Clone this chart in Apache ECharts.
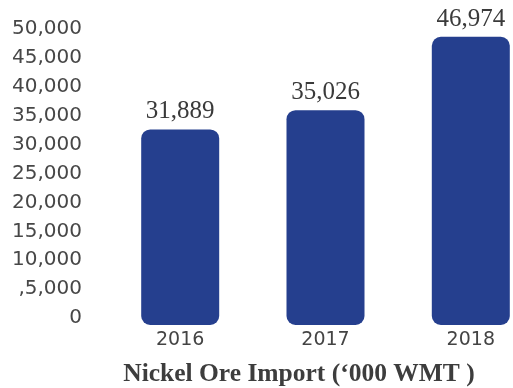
<!DOCTYPE html>
<html>
<head>
<meta charset="utf-8">
<script src="https://cdn.jsdelivr.net/npm/echarts@6/dist/echarts.min.js"></script>
<style>
  html, body { margin: 0; padding: 0; background: #ffffff; }
  #chart { width: 513px; height: 388px; }
</style>
</head>
<body>
<div id="chart"></div>
<script>
// Nickel ore imports by year, thousand wet metric tonnes
const years = ['2016', '2017', '2018'];
const importVolumes = [31889, 35026, 46974];
const yTickValues = [0, 5000, 10000, 15000, 20000, 25000, 30000, 35000, 40000, 45000, 50000];
const yTickLabels = ['0', ',5,000', '10,000', '15,000', '20,000', '25,000', '30,000', '35,000', '40,000', '45,000', '50,000'];
const chartTitle = 'Nickel Ore Import (\u2018000 WMT )';

const sansFont = '"DejaVu Sans", sans-serif';
const serifFont = '"Liberation Serif", "DejaVu Serif", serif';

const chart = echarts.init(document.getElementById('chart'), null, { renderer: 'canvas' });

chart.setOption({
  backgroundColor: '#ffffff',
  animation: false,
  title: {
    text: chartTitle,
    left: 294,
    textAlign: 'center',
    top: 356,
    textStyle: {
      fontFamily: serifFont,
      fontWeight: 'bold',
      fontSize: 25.5,
      color: '#3d3d3d'
    }
  },
  grid: [
    // bars: first and last category sit on the grid edges
    { left: 180.2, width: 290.6, top: 18.3, bottom: 63, containLabel: false },
    // tick scale on the left
    { left: 90, width: 10, top: 29, bottom: 70, containLabel: false }
  ],
  xAxis: [
    {
      gridIndex: 0,
      type: 'category',
      data: years,
      boundaryGap: false,
      axisLine: { show: false },
      axisTick: { show: false },
      splitLine: { show: false },
      axisLabel: {
        margin: 6,
        fontFamily: sansFont,
        fontSize: 19,
        color: '#444444'
      }
    },
    {
      gridIndex: 1,
      type: 'category',
      data: [''],
      show: false
    }
  ],
  yAxis: [
    {
      gridIndex: 0,
      type: 'value',
      min: 0,
      max: 50000,
      show: false,
      splitLine: { show: false }
    },
    {
      gridIndex: 1,
      type: 'value',
      min: 0,
      max: 50000,
      interval: 5000,
      axisLine: { show: false },
      axisTick: { show: false },
      splitLine: { show: false },
      axisLabel: {
        margin: 8,
        fontFamily: sansFont,
        fontSize: 20,
        color: '#474747',
        formatter: function (v) {
          const i = yTickValues.indexOf(v);
          return i >= 0 ? yTickLabels[i] : '';
        }
      }
    }
  ],
  series: [
    {
      type: 'bar',
      xAxisIndex: 0,
      yAxisIndex: 0,
      data: importVolumes,
      barWidth: 78,
      clip: false,
      itemStyle: {
        color: '#253f8e',
        borderRadius: 9
      },
      label: {
        show: true,
        position: 'top',
        distance: 5,
        fontFamily: serifFont,
        fontSize: 25,
        color: '#3a3a3a',
        formatter: function (p) {
          return p.value.toLocaleString('en-US');
        }
      }
    },
    {
      type: 'bar',
      xAxisIndex: 1,
      yAxisIndex: 1,
      data: []
    }
  ]
});
</script>
</body>
</html>
